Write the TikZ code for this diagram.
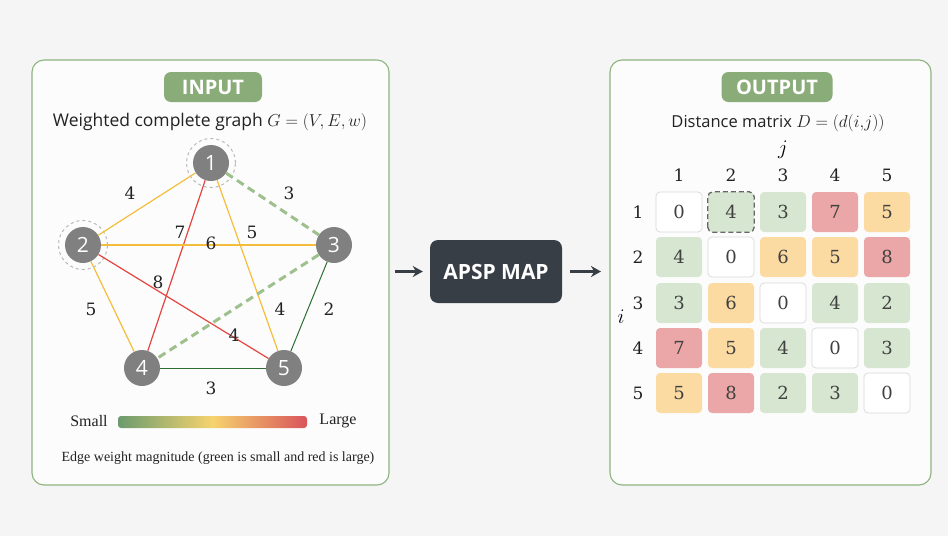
\documentclass[tikz,border=0pt]{standalone}
\usepackage{fontspec}
\setsansfont{Open Sans}
\newfontfamily\numfont{DejaVu Serif}
\newfontfamily\capfont{Liberation Serif}
\usetikzlibrary{arrows.meta}
\definecolor{bg}{HTML}{F5F5F5}
\definecolor{panel}{HTML}{FCFCFC}
\definecolor{frame}{HTML}{8DB37E}
\definecolor{badge}{HTML}{8AAC78}
\definecolor{vgray}{HTML}{808080}
\definecolor{eyellow}{HTML}{F4BE3C}
\definecolor{ered}{HTML}{E5443F}
\definecolor{egreen}{HTML}{2F6E33}
\definecolor{edash}{HTML}{9DC08C}
\definecolor{dark}{HTML}{373E45}
\definecolor{cg}{HTML}{D7E6D0}
\definecolor{co}{HTML}{FBDBA2}
\definecolor{cr}{HTML}{EBA7A7}
\definecolor{cw}{HTML}{FFFFFF}
\definecolor{gl}{HTML}{6B9B6E}
\definecolor{gm}{HTML}{F6D36E}
\definecolor{gr}{HTML}{D9535B}
\definecolor{txt}{HTML}{222222}
\begin{document}
\begin{tikzpicture}[x=1pt,y=-1pt,
  panelbox/.style={draw=frame, line width=1.1pt, fill=panel, rounded corners=12pt},
  badgebox/.style={fill=badge, rounded corners=7pt, text=white, inner sep=0pt, minimum height=30, font=\sffamily\bfseries\fontsize{20}{20}\selectfont},
  vert/.style={circle, fill=vgray, minimum size=36, inner sep=0pt, text=white, font=\sffamily\fontsize{21}{21}\selectfont},
  ring/.style={circle, draw=gray!55, dashed, line width=1pt, minimum size=49, inner sep=0pt},
  wlab/.style={font=\numfont\fontsize{17}{17}\selectfont, text=txt, inner sep=1pt},
  ey/.style={draw=eyellow, line width=1.2pt},
  er/.style={draw=ered, line width=1.2pt},
  eg/.style={draw=egreen, line width=1pt},
  ed/.style={draw=edash, line width=3pt, dash pattern=on 8pt off 5pt},
  cell/.style={rounded corners=4pt, minimum width=46, minimum height=40, inner sep=0pt, font=\numfont\fontsize{18}{18}\selectfont, text=black!75},
  hdr/.style={font=\numfont\fontsize{17}{17}\selectfont, text=txt, inner sep=0pt},
  flow/.style={draw=dark, line width=2.2pt, -{Stealth[length=10pt,width=11pt]}}
]
\useasboundingbox[fill=bg] (0,0) rectangle (948,536);
% panels
\draw[panelbox] (32,60) rectangle (389,485);
\draw[panelbox] (610,60) rectangle (931,485);
% ---------- left panel ----------
\node[badgebox, minimum width=98] (inbadge) at (213,87) {INPUT};
\node[font=\sffamily\fontsize{17.5}{20}\selectfont, text=txt] (gtitle) at (210,122) {Weighted complete graph $G=(V,E,w)$};
\node[vert] (v1) at (211,163) {1};
\node[vert] (v2) at (83,245) {2};
\node[vert] (v3) at (334,245) {3};
\node[vert] (v4) at (142,368) {4};
\node[vert] (v5) at (284,368) {5};
\node[ring] (r1) at (v1) {};
\node[ring] (r2) at (v2) {};
% edges
\draw[ey] (v1) -- (v2);
\draw[ed] (v1) -- (v3);
\draw[er] (v1) -- (v4);
\draw[ey] (v1) -- (v5);
\draw[ey] (v2) -- (v3);
\draw[ey] (v2) -- (v4);
\draw[er] (v2) -- (v5);
\draw[ed] (v3) -- (v4);
\draw[eg] (v3) -- (v5);
\draw[eg] (v4) -- (v5);
% weights
\node[wlab] (w12) at (130,193) {4};
\node[wlab] (w13) at (289,193) {3};
\node[wlab] (w14) at (180,232) {7};
\node[wlab] (w15) at (252,232) {5};
\node[wlab] (w23) at (211,243) {6};
\node[wlab] (w25) at (158,282) {8};
\node[wlab] (w24) at (91,309) {5};
\node[wlab] (w15b) at (280,309) {4};
\node[wlab] (w35) at (329,309) {2};
\node[wlab] (w34) at (234,335) {4};
\node[wlab] (w45) at (211,388) {3};
% legend
\node[font=\capfont\fontsize{16}{16}\selectfont, text=txt] (small) at (89,421) {Small};
\node[font=\capfont\fontsize{16}{16}\selectfont, text=txt] (large) at (338,421) {Large};
\shade[left color=gl, right color=gr, middle color=gm, rounded corners=3pt] (118,416) rectangle (307,428);
\node[font=\capfont\fontsize{14}{16}\selectfont, text=txt] (cap) at (218,458) {Edge weight magnitude (green is small and red is large)};
% ---------- middle ----------
\node[fill=dark, rounded corners=8pt, minimum width=132, minimum height=63, inner sep=0pt, text=white, font=\sffamily\bfseries\fontsize{21}{21}\selectfont] (apsp) at (496,271.5) {APSP MAP};
\coordinate (inR) at (395,271.5);
\coordinate (outL) at (601,271.5);
\draw[flow] (inR) -- ([xshift=-7pt]apsp.west);
\draw[flow] ([xshift=8pt]apsp.east) -- (outL);
% ---------- right panel ----------
\node[badgebox, minimum width=111] (outbadge) at (777,87) {OUTPUT};
\node[font=\sffamily\fontsize{16.5}{20}\selectfont, text=txt] (mtitle) at (778,123) {Distance matrix $D=(d(i,\!j))$};
\node[font=\fontsize{20}{20}\selectfont, inner sep=0pt] (jlab) at (783,150) {$j$};
\node[font=\fontsize{20}{20}\selectfont, inner sep=0pt] (ilab) at (621,317) {$i$};
\foreach \c/\x in {1/679,2/731,3/783,4/835,5/887} {
  \node[hdr] (ch\c) at (\x,175) {\c};
}
\foreach \r/\y in {1/212,2/257,3/303,4/348,5/393} {
  \node[hdr] (rh\r) at (638,\y) {\r};
}
\foreach \r/\c/\v/\col in {
  1/1/0/cw,1/2/4/cg,1/3/3/cg,1/4/7/cr,1/5/5/co,
  2/1/4/cg,2/2/0/cw,2/3/6/co,2/4/5/co,2/5/8/cr,
  3/1/3/cg,3/2/6/co,3/3/0/cw,3/4/4/cg,3/5/2/cg,
  4/1/7/cr,4/2/5/co,4/3/4/cg,4/4/0/cw,4/5/3/cg,
  5/1/5/co,5/2/8/cr,5/3/2/cg,5/4/3/cg,5/5/0/cw} {
  \ifnum\r=\c
    \node[cell, fill=\col, draw=gray!30, line width=0.7pt] (m\r\c) at (ch\c |- rh\r) {\v};
  \else
    \node[cell, fill=\col] (m\r\c) at (ch\c |- rh\r) {\v};
  \fi
}
\draw[gray!80!black, line width=1.3pt, dash pattern=on 5pt off 3pt, rounded corners=5pt] (m12.south west) rectangle (m12.north east);
\end{tikzpicture}
\end{document}
